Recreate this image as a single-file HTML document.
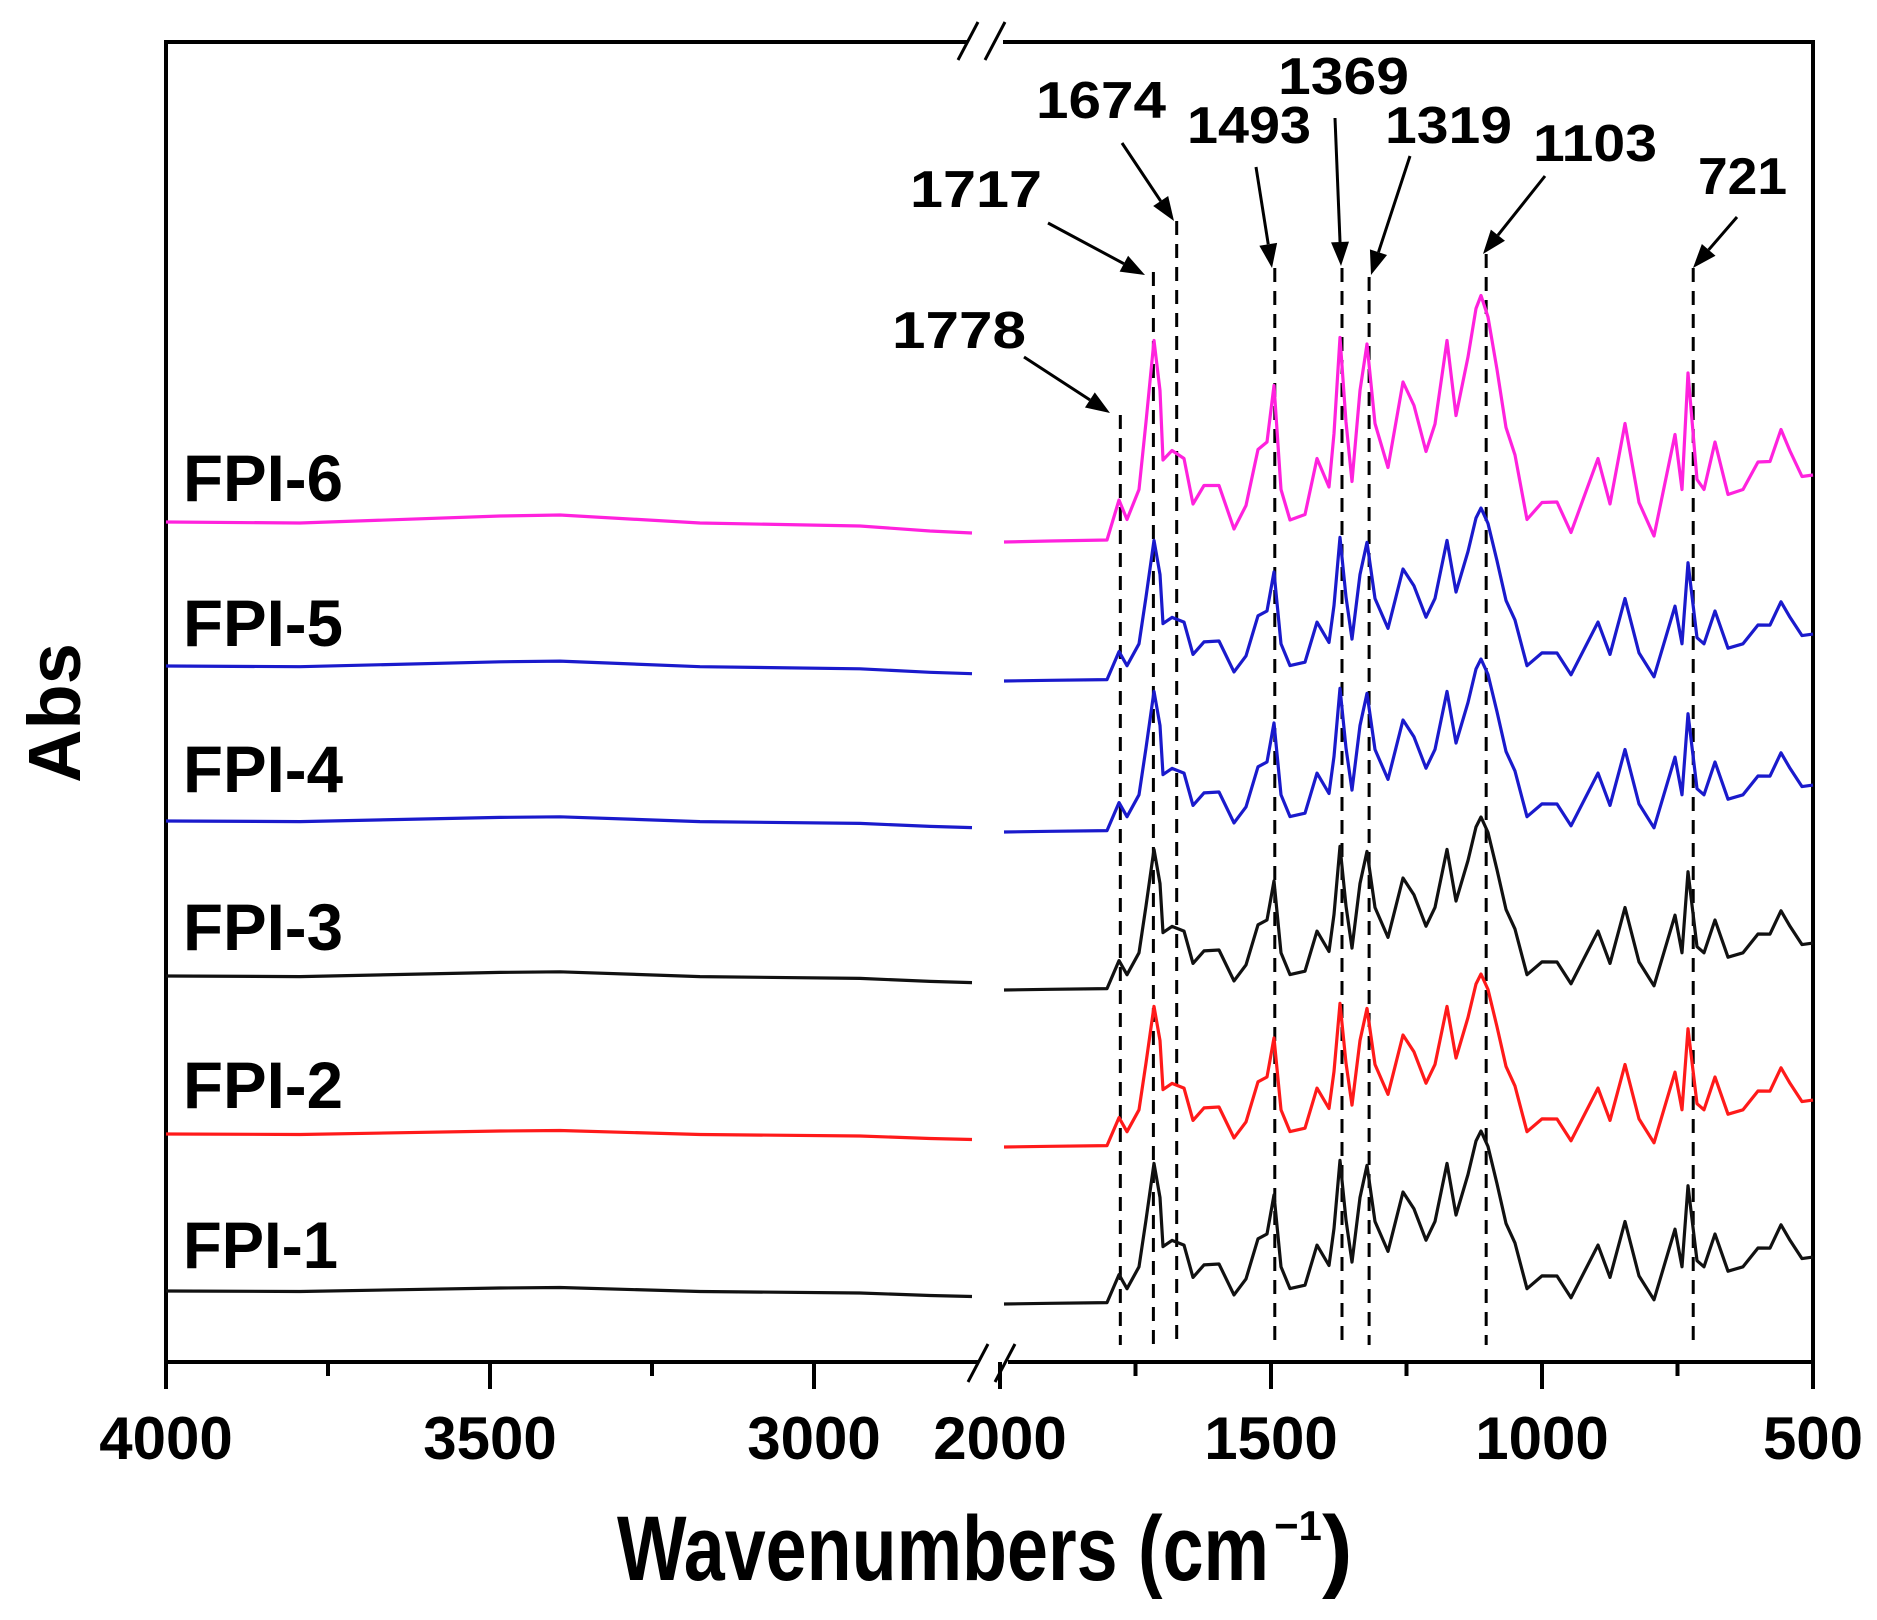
<!DOCTYPE html>
<html><head><meta charset="utf-8"><style>
html,body{margin:0;padding:0;background:#fff;}
svg{display:block;}
text{font-family:"Liberation Sans",Arial,sans-serif;font-weight:bold;fill:#000;}
</style></head><body>
<svg id="s" width="1877" height="1620" viewBox="0 0 1877 1620" xmlns="http://www.w3.org/2000/svg">
<g stroke="#000" stroke-width="4" fill="none">
<line x1="166" y1="41" x2="166" y2="1364"/>
<line x1="1813" y1="41" x2="1813" y2="1364"/>
<line x1="164" y1="42" x2="968" y2="42"/>
<line x1="1003" y1="42" x2="1815" y2="42"/>
<line x1="164" y1="1362" x2="978" y2="1362"/>
<line x1="1008" y1="1362" x2="1815" y2="1362"/>
<line x1="958" y1="60" x2="978" y2="22" stroke-width="3"/>
<line x1="985" y1="60" x2="1005" y2="22" stroke-width="3"/>
<line x1="968" y1="1382" x2="988" y2="1344" stroke-width="3"/>
<line x1="995" y1="1382" x2="1015" y2="1344" stroke-width="3"/>
</g>
<g id="ticks" stroke="#000" stroke-width="4"></g>
<g id="dash" stroke="#000" stroke-width="3" stroke-dasharray="14,9" fill="none"></g>
<g id="traces" fill="none" stroke-width="3.2" stroke-linejoin="round"></g>
<g id="arrows" stroke="#000" stroke-width="3" fill="#000"></g>
<g font-size="60" text-anchor="middle">
<text x="166" y="1459">4000</text><text x="490" y="1459">3500</text><text x="814" y="1459">3000</text>
<text x="1000" y="1459">2000</text><text x="1271" y="1459">1500</text><text x="1542" y="1459">1000</text><text x="1813" y="1459">500</text>
</g>
<text x="617" y="1580" font-size="92" textLength="652" lengthAdjust="spacingAndGlyphs">Wavenumbers (cm</text>
<text x="1274" y="1540" font-size="42">−1</text>
<text x="1322" y="1580" font-size="92">)</text>
<text transform="translate(80,713) rotate(-90)" font-size="74" text-anchor="middle">Abs</text>
<g font-size="66">
<text x="183" y="501" textLength="160" lengthAdjust="spacingAndGlyphs">FPI-6</text>
<text x="183" y="646" textLength="160" lengthAdjust="spacingAndGlyphs">FPI-5</text>
<text x="183" y="792" textLength="160" lengthAdjust="spacingAndGlyphs">FPI-4</text>
<text x="183" y="950" textLength="160" lengthAdjust="spacingAndGlyphs">FPI-3</text>
<text x="183" y="1108" textLength="160" lengthAdjust="spacingAndGlyphs">FPI-2</text>
<text x="183" y="1268" textLength="155" lengthAdjust="spacingAndGlyphs">FPI-1</text>
</g>
<g font-size="52">
<text x="892" y="348" textLength="134" lengthAdjust="spacingAndGlyphs">1778</text>
<text x="910" y="207" textLength="132" lengthAdjust="spacingAndGlyphs">1717</text>
<text x="1036" y="118" textLength="130" lengthAdjust="spacingAndGlyphs">1674</text>
<text x="1187" y="143" textLength="124" lengthAdjust="spacingAndGlyphs">1493</text>
<text x="1278" y="94" textLength="131" lengthAdjust="spacingAndGlyphs">1369</text>
<text x="1385" y="143" textLength="127" lengthAdjust="spacingAndGlyphs">1319</text>
<text x="1533" y="161" textLength="124" lengthAdjust="spacingAndGlyphs">1103</text>
<text x="1698" y="194" textLength="89" lengthAdjust="spacingAndGlyphs">721</text>
</g>
</svg>
<script>
var NS="http://www.w3.org/2000/svg";
function el(p,t,a){var e=document.createElementNS(NS,t);for(var k in a)e.setAttribute(k,a[k]);p.appendChild(e);return e;}
function XR(w){return 1000+(2000-w)*0.542;}
function XL(w){return 166+(4000-w)*0.648;}
var tk=document.getElementById('ticks');
[[4000,1],[3500,1],[3000,1],[3750,0],[3250,0]].forEach(function(t){var x=XL(t[0]);el(tk,'line',{x1:x,y1:1362,x2:x,y2:t[1]?1389:1376});});
[[2000,1],[1500,1],[1000,1],[500,1],[1750,0],[1250,0],[750,0]].forEach(function(t){var x=XR(t[0]);el(tk,'line',{x1:x,y1:1362,x2:x,y2:t[1]?1389:1376});});
var dg=document.getElementById('dash');
[[1778,415],[1717,272],[1674,221],[1493,268],[1369,268],[1319,277],[1103,254],[721,268]].forEach(function(d){var x=XR(d[0]);el(dg,'line',{x1:x,y1:d[1],x2:x,y2:1345});});
var ag=document.getElementById('arrows');
[[1024,357,1110,413],[1048,223,1145,275],[1122,143,1174,221],[1256,167,1272,268],[1335,118,1341,266],[1410,156,1371,275],[1545,176,1483,254],[1737,217,1693,268]].forEach(function(a){
 var dx=a[2]-a[0],dy=a[3]-a[1],L=Math.sqrt(dx*dx+dy*dy),ux=dx/L,uy=dy/L,h=24,w=9;
 var bx=a[2]-ux*h,by=a[3]-uy*h;
 el(ag,'line',{x1:a[0],y1:a[1],x2:bx,y2:by});
 el(ag,'polygon',{points:a[2]+','+a[3]+' '+(bx-uy*w)+','+(by+ux*w)+' '+(bx+uy*w)+','+(by-ux*w),stroke:'none'});
});
var T=[[1004,0],[1050,1],[1107,2],[1119,42],[1127,24],[1139,51],[1146,120],[1154,203],[1160,150],[1163,82],[1172,93],[1184,82],[1193,38],[1204,58],[1219,55],[1234,13],[1246,38],[1258,91],[1267,100],[1274,158],[1281,51],[1290,22],[1305,29],[1317,82],[1329,55],[1334,110],[1340,203],[1346,120],[1352,62],[1360,150],[1367,198],[1375,120],[1388,73],[1403,160],[1414,138],[1426,89],[1435,118],[1447,203],[1456,125],[1468,185],[1476,235],[1481,245],[1488,225],[1497,174],[1506,113],[1515,87],[1527,24],[1542,38],[1557,40],[1571,11],[1598,82],[1610,38],[1625,120],[1639,38],[1654,6],[1675,109],[1682,51],[1688,169],[1697,64],[1704,51],[1715,100],[1728,49],[1743,51],[1758,80],[1770,82],[1781,111],[1790,91],[1802,67],[1813,67]];
var traces=[
 {c:'#ff22dd',L:522,R:542,s:1.0,k:1.0},
 {c:'#1a1acc',L:666,R:681,s:0.7,k:0.7},
 {c:'#1a1acc',L:821,R:832,s:0.7,k:0.6},
 {c:'#111',L:976,R:990,s:0.7,k:0.6},
 {c:'#ff1a1a',L:1134,R:1147,s:0.7,k:0.5},
 {c:'#111',L:1291,R:1304,s:0.7,k:0.5}];
var tg=document.getElementById('traces');
traces.forEach(function(t){
 var lp=[[166,0],[300,1],[500,-6],[560,-7],[700,1],[860,4],[930,9],[972,11]];
 var d='M'+lp.map(function(p){return p[0]+','+(t.L+p[1]*t.k).toFixed(1);}).join(' L');
 el(tg,'path',{d:d,stroke:t.c});
 var rp='M'+T.map(function(p,i){var j=(i%3==1?1.5:(i%3==2?-1.5:0));return p[0]+','+(t.R-p[1]*t.s+j*(i>2&&i<T.length-1?1:0)).toFixed(1);}).join(' L');
 el(tg,'path',{d:rp,stroke:t.c});
});
</script>
</body></html>
